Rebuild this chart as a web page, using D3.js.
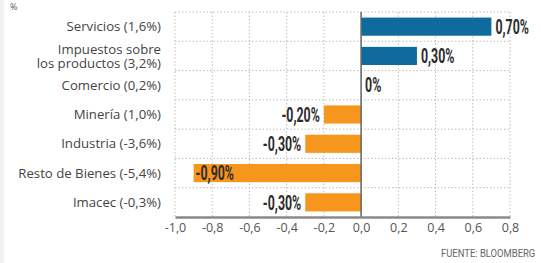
<!DOCTYPE html>
<html>
<head>
<meta charset="utf-8">
<script src="https://cdn.jsdelivr.net/npm/d3@7"></script>
<style>
	body { margin: 0; background: #fff; }
	svg { display: block; }
</style>
</head>
<body>
<div id="chart"></div>
<script>
// data
const categories = ["Servicios (1,6%)", "Impuestos sobre\nlos productos (3,2%)", "Comercio (0,2%)", "Minería (1,0%)", "Industria (-3,6%)", "Resto de Bienes (-5,4%)", "Imacec (-0,3%)"];
const values = [0.70, 0.30, 0, -0.20, -0.30, -0.90, -0.30];
const valueLabels = ["0,70%", "0,30%", "0%", "-0,20%", "-0,30%", "-0,90%", "-0,30%"];
const xTicks = [-1.0, -0.8, -0.6, -0.4, -0.2, 0.0, 0.2, 0.4, 0.6, 0.8];

const width = 541, height = 263;
const blue = "#0f6b9e", orange = "#f7961d";

const svg = d3.select("#chart").append("svg")
	.attr("width", width)
	.attr("height", height);

// faint strip on the left edge
svg.append("rect").attr("x", 0).attr("y", 0).attr("width", 4).attr("height", height).attr("fill", "#f1f1f1");

const x = d3.scaleLinear().domain([-1.0, 0.8]).range([175, 510]);
const y = d3.scaleBand().domain(d3.range(categories.length)).range([12, 217]).paddingInner(0.38).paddingOuter(0.19);
const rowH = 205 / categories.length;

const grid = svg.append("g");
// vertical dotted grid
grid.selectAll("line.v").data(xTicks).enter().append("line")
	.attr("x1", d => x(d)).attr("x2", d => x(d))
	.attr("y1", 12).attr("y2", 217)
	.attr("stroke", "#bdbdbd").attr("stroke-width", 1)
	.attr("stroke-dasharray", "1.5,2");
// horizontal dotted grid, between rows
grid.selectAll("line.h").data(d3.range(categories.length)).enter().append("line")
	.attr("x1", x(-1.0)).attr("x2", x(0.8))
	.attr("y1", d => 12 + d * rowH).attr("y2", d => 12 + d * rowH)
	.attr("stroke", "#bdbdbd").attr("stroke-width", 1)
	.attr("stroke-dasharray", "1.5,2");

// bars
svg.append("g").selectAll("rect").data(values).enter().append("rect")
	.attr("x", d => x(Math.min(0, d)))
	.attr("width", d => Math.abs(x(d) - x(0)))
	.attr("y", (d, i) => y(i))
	.attr("height", y.bandwidth())
	.attr("fill", d => d >= 0 ? blue : orange);

// zero line
svg.append("line")
	.attr("x1", x(0)).attr("x2", x(0))
	.attr("y1", 12).attr("y2", 217)
	.attr("stroke", "#666").attr("stroke-width", 1.5);

// bottom axis
const xAxis = d3.axisBottom(x)
	.tickValues(xTicks)
	.tickSize(0)
	.tickPadding(6)
	.tickFormat(d => d3.format(".1f")(d).replace(".", ",").replace("−", "-"));

const ax = svg.append("g")
	.attr("transform", "translate(0,217)")
	.call(xAxis);
ax.select(".domain").attr("stroke", "#8a8a8a").attr("stroke-width", 2.5);
ax.selectAll("text")
	.attr("fill", "#555")
	.style("font-family", "'Open Sans', sans-serif")
	.style("font-size", "12.5px");

// category labels
const catLabels = svg.append("g").selectAll("text").data(categories).enter().append("text")
	.attr("text-anchor", "end")
	.attr("fill", "#444")
	.style("font-family", "'Open Sans', sans-serif")
	.style("font-size", "13.2px")
	.attr("x", 161)
	.attr("y", (d, i) => y(i) + y.bandwidth() / 2);
catLabels.each(function(d) {
	const lines = d.split("\n");
	const t = d3.select(this);
	lines.forEach((l, k) => {
		t.append("tspan")
			.attr("x", 161)
			.attr("dy", k === 0 ? ((-(lines.length - 1) * 0.5 + 0.35) + "em") : "1.05em")
			.text(l);
	});
});

// value labels, condensed bold
function labelX(d) {
	if (d >= 0) return x(d) + 4;
	if (x(0) - x(d) > 120) return x(d) + 2;
	return x(d) - 4;
}
svg.append("g").selectAll("text").data(values).enter().append("text")
	.attr("transform", (d, i) => `translate(${labelX(d)},${y(i) + y.bandwidth() / 2}) scale(0.62,1)`)
	.attr("dy", "0.36em")
	.attr("text-anchor", d => (d >= 0 || x(0) - x(d) > 120) ? "start" : "end")
	.attr("fill", "#2b2b2b")
	.style("font-family", "'Roboto', 'Liberation Sans', sans-serif")
	.style("font-weight", "bold")
	.style("font-size", "20px")
	.text((d, i) => valueLabels[i]);

// unit and source
svg.append("text")
	.attr("x", 10).attr("y", 10)
	.attr("fill", "#555")
	.style("font-family", "'Open Sans', sans-serif")
	.style("font-size", "9px")
	.text("%");

svg.append("text")
	.attr("transform", "translate(441,257) scale(0.9,1)")
	.attr("fill", "#666")
	.style("font-family", "'Roboto', sans-serif")
	.style("font-size", "10.5px")
	.text("FUENTE: BLOOMBERG");
</script>
</body>
</html>
